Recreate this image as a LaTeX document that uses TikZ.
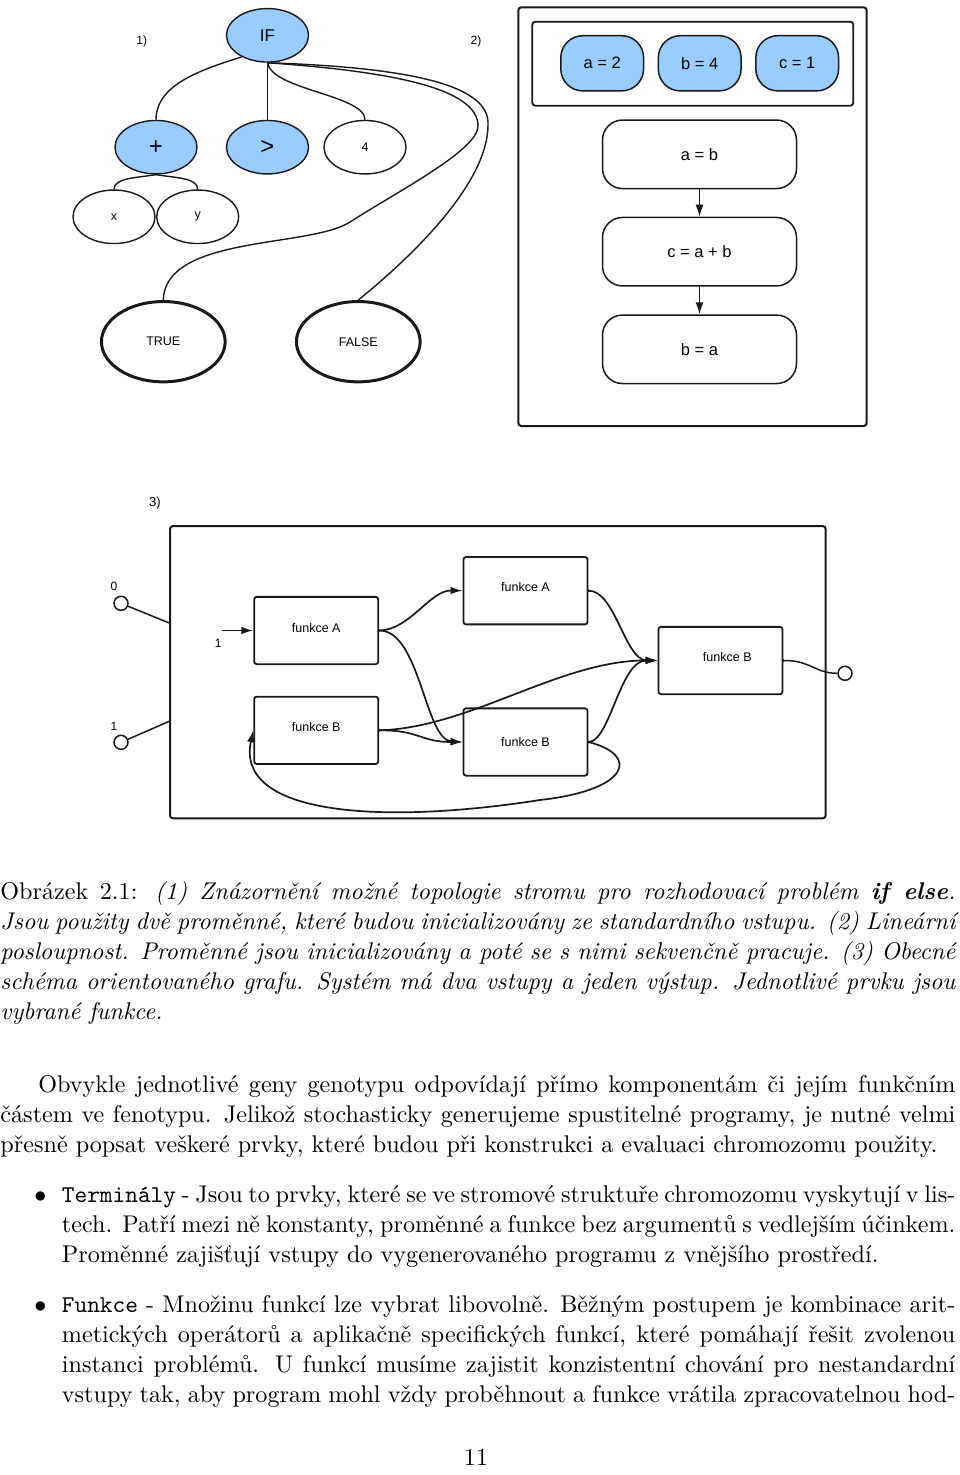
\documentclass[tikz,border=0pt]{standalone}
\usepackage{fontspec}
\newfontfamily\dg{Liberation Sans}
\usetikzlibrary{shapes.geometric,arrows.meta}
\definecolor{lblue}{RGB}{153,204,255}
\definecolor{lc}{RGB}{25,25,25}
\newcommand\jline[1]{\hbox to\hsize{#1}}
\newcommand\lline[1]{\hbox to\hsize{#1\hfil}}
\newcommand\dfs[1]{\dg\fontsize{#1}{#1}\selectfont}
\newcommand\bodyfont{\fontsize{10.95}{13.6}\selectfont\spaceskip=0pt\xspaceskip=0pt\relax}
\begin{document}
\begin{tikzpicture}[x=1pt,y=-1pt,
  tn/.style={ellipse, draw=lc, line width=1.4pt, minimum width=82pt, minimum height=53.5pt, inner sep=0pt, font=\dfs{12.5}},
  bl/.style={fill=lblue},
  tf/.style={ellipse, draw=lc, line width=3pt, minimum width=123.7pt, minimum height=80.3pt, inner sep=0pt, font=\dfs{12.5}},
  lab/.style={inner sep=0pt, font=\dfs{12}},
  tedge/.style={draw=lc, line width=1.4pt},
  vbox/.style={rectangle, rounded corners=22pt, draw=lc, line width=1.5pt, fill=lblue, minimum width=82.8pt, minimum height=55.2pt, inner sep=0pt, font=\dfs{16.5}},
  sbox/.style={rectangle, rounded corners=20pt, draw=lc, line width=1.5pt, fill=white, minimum width=194pt, minimum height=68.5pt, inner sep=0pt, font=\dfs{16.5}},
  fbox/.style={rectangle, rounded corners=2.5pt, draw=lc, line width=1.8pt, minimum width=124pt, minimum height=67.3pt, inner sep=0pt},
  ftxt/.style={inner sep=0pt, font=\dfs{12.5}},
  port/.style={circle, draw=lc, line width=1.5pt, fill=white, minimum size=14pt, inner sep=0pt},
  arr/.style={draw=lc, line width=1.5pt, -{Latex[length=12pt,width=8pt]}},
  e3/.style={draw=lc, line width=1.7pt, -{Latex[length=12pt,width=7.5pt]}},
  e3n/.style={draw=lc, line width=1.7pt},
  txt/.style={anchor=base west, inner sep=0pt, align=justify, font=\bodyfont, scale=2.206, transform shape}
]
\useasboundingbox (0,0) rectangle (960,1475);

% ---------- (1) tree ----------
\node[lab] (l1) at (141.7,41.7) {1)};
\node[lab] (l2) at (476,41.7) {2)};
\node[tn,bl,font=\dfs{17}] (IF) at (267.5,35.3) {IF};
\node[tn,bl,font=\dfs{24}] (plus) at (156,147.2) {+};
\node[tn,bl,font=\dfs{24}] (gt) at (267.5,147.2) {>};
\node[tn] (four) at (365,147.2) {4};
\node[tn] (nx) at (114,216.8) {x};
\node[tn] (ny) at (197.7,216.8) {y};
\node[tf] (true) at (163.3,341.7) {TRUE};
\node[tf] (false) at (358.3,341.7) {FALSE};

\draw[tedge] (IF.-140) .. controls (200,70) and (156,85) .. (plus.north);
\draw[tedge] (IF.south) -- (gt.north);
\draw[tedge] (IF.south) .. controls (272,90) and (365,95) .. (four.north);
\draw[tedge] (IF.south) .. controls (400,72) and (478,90) .. (478,126)
  .. controls (478,150) and (400,190) .. (350,222)
  .. controls (310,248) and (165,235) .. (true.north);
\draw[tedge] (IF.south) .. controls (430,68) and (490,90) .. (488,125)
  .. controls (488,180) and (420,250) .. (false.north);
\draw[tedge] (plus.south) .. controls (135,178) and (114,178) .. (nx.north);
\draw[tedge] (plus.south) .. controls (177,178) and (197.7,178) .. (ny.north);

% ---------- (2) linear sequence ----------
\draw[draw=lc, line width=2pt, rounded corners=3pt] (518.3,7.3) rectangle (866.7,426);
\draw[draw=lc, line width=1.8pt, rounded corners=3pt] (532.3,21.7) rectangle (853.3,105.7);
\node[vbox] (va) at (602.2,63.3) {a = 2};
\node[vbox] (vb) at (699.7,63.3) {b = 4};
\node[vbox] (vc) at (797.2,63.3) {c = 1};
\node[sbox] (s1) at (699.5,154.3) {a = b};
\node[sbox] (s2) at (699.5,251.7) {c = a + b};
\node[sbox] (s3) at (699.5,349.3) {b = a};
\draw[arr] (s1.south) -- (s2.north);
\draw[arr] (s2.south) -- (s3.north);

% ---------- (3) graph ----------
\node[lab,font=\dfs{13}] (l3) at (155,503.5) {3)};
\draw[draw=lc, line width=2pt, rounded corners=3pt] (170,526) rectangle (825.7,818.3);
\node[port] (c0) at (121,603.3) {};
\node[port] (c1) at (121,742.3) {};
\node[port] (cout) at (845,673.3) {};
\node[lab] (l0) at (114,586.7) {0};
\node[lab] (l1b) at (114,726) {1};
\node[lab] (l1c) at (218.3,643.5) {1};
\coordinate (p0) at (170,623.3);
\coordinate (p1) at (170,721);
\coordinate (in1) at (221.7,630.5);
\draw[e3n,line width=1.5pt] (c0) -- (p0);
\draw[e3n,line width=1.5pt] (c1) -- (p1);

\node[fbox] (fA1) at (316.2,630.5) {};
\node[fbox] (fB1) at (316.2,730.3) {};
\node[fbox] (fA2) at (525.5,590.7) {};
\node[fbox] (fB2) at (720.5,660.5) {};
\node[fbox] (fB3) at (525.5,742) {};
\node[ftxt] (tA1) at (316.2,628.3) {funkce A};
\node[ftxt] (tB1) at (316.2,726.7) {funkce B};
\node[ftxt] (tA2) at (525.5,586.7) {funkce A};
\node[ftxt] (tB2) at (727.3,656.7) {funkce B};
\node[ftxt] (tB3) at (525.5,741.7) {funkce B};

\draw[e3] (in1) -- (fA1.west);
\draw[e3] (fA1.east) .. controls (410,630) and (430,590) .. (fA2.west);
\draw[e3] (fA1.east) .. controls (420,630) and (425,740) .. (fB3.west);
\draw[e3] (fB1.east) .. controls (420,730) and (420,742) .. (fB3.west);
\draw[e3] (fB1.east) .. controls (470,728) and (560,660) .. (fB2.west);
\draw[e3] (fA2.east) .. controls (615,590) and (625,660) .. (fB2.west);
\draw[e3] (fB3.east) .. controls (610,742) and (620,660) .. (fB2.west);
\draw[e3] (fB3.east) .. controls (640,755) and (630,790) .. (540,800)
  .. controls (380,825) and (235,815) .. (fB1.west);
\draw[e3n,line width=1.5pt] (fB2.east) .. controls (810,660) and (815,673.3) .. (cout.west);
\foreach \n in {fA1,fB1,fA2,fB3,fB2} \fill[lc] (\n.east) circle[radius=1.5pt];

% ---------- text (set at 10.95pt and scaled) ----------
\node[txt, text width=432.9pt] (cap) at (0,899) {%
\jline{Obrázek 2.1: \textit{(1) Znázornění možné topologie stromu pro rozhodovací problém \textbf{if else}.}}
\jline{\itshape Jsou použity dvě proměnné, které budou inicializovány ze standardního vstupu. (2) Lineární}
\jline{\itshape posloupnost. Proměnné jsou inicializovány a poté se s nimi sekvenčně pracuje. (3) Obecné}
\jline{\itshape schéma orientovaného grafu. Systém má dva vstupy a jeden výstup. Jednotlivé prvku jsou}
\lline{\itshape vybrané funkce.}};

\node[txt, text width=432.9pt] (par) at (0,1092) {%
\jline{\hspace*{17.2pt}Obvykle jednotlivé geny genotypu odpovídají přímo komponentám či jejím funkčním}
\jline{částem ve fenotypu. Jelikož stochasticky generujeme spustitelné programy, je nutné velmi}
\lline{přesně popsat veškeré prvky, které budou při konstrukci a evaluaci chromozomu použity.}};

\node[txt] (b1) at (34,1202) {$\bullet$};
\node[txt, text width=405pt] (it1) at (61.5,1202) {%
\jline{\texttt{Terminály} - Jsou to prvky, které se ve stromové struktuře chromozomu vyskytují v lis-}
\jline{tech. Patří mezi ně konstanty, proměnné a funkce bez argumentů s vedlejším účinkem.}
\lline{Proměnné zajišťují vstupy do vygenerovaného programu z vnějšího prostředí.}};

\node[txt] (b2) at (34,1312) {$\bullet$};
\node[txt, text width=405pt] (it2) at (61.5,1312) {%
\jline{\texttt{Funkce} - Množinu funkcí lze vybrat libovolně. Běžným postupem je kombinace arit-}
\jline{metických operátorů a aplikačně specifických funkcí, které pomáhají řešit zvolenou}
\jline{instanci problémů. U funkcí musíme zajistit konzistentní chování pro nestandardní}
\jline{vstupy tak, aby program mohl vždy proběhnout a funkce vrátila zpracovatelnou hod-}};

\node[inner sep=0pt, anchor=base, font=\bodyfont, scale=2.206, transform shape] (pg) at (476,1465) {11};
\end{tikzpicture}
\end{document}
